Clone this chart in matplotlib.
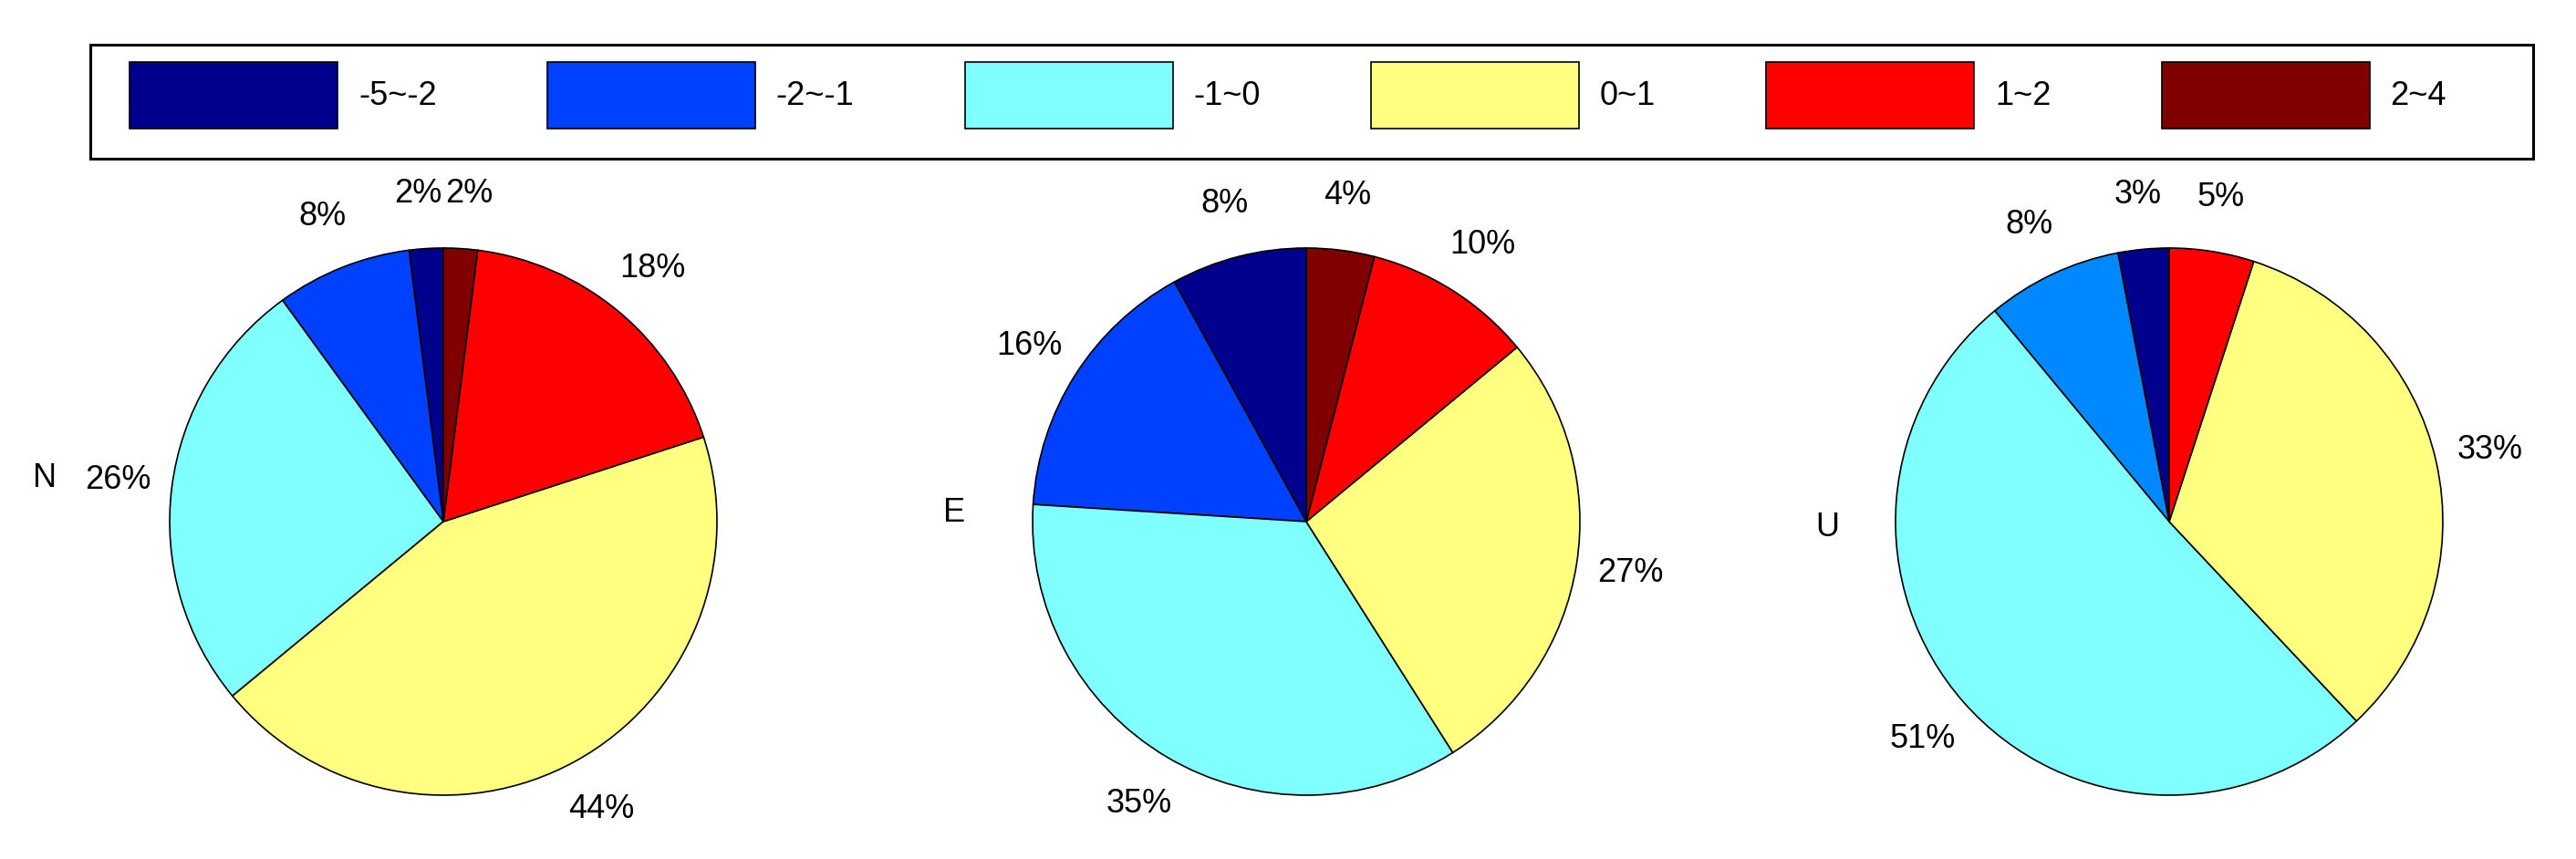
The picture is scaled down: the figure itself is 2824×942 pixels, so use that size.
import matplotlib
matplotlib.use('Agg')
import matplotlib.pyplot as plt
from matplotlib.patches import Rectangle

plt.rcParams['font.family'] = ['Liberation Sans', 'DejaVu Sans']

# ---------------- data ----------------
categories = ['-5~-2', '-2~-1', '-1~0', '0~1', '1~2', '2~4']
n_values = [2, 8, 26, 44, 18, 2]
e_values = [8, 16, 35, 27, 10, 4]
u_categories = ['-5~-2', '-2~-1', '-1~0', '0~1', '1~2']
u_values = [3, 8, 51, 33, 5]
component_names = ['N', 'E', 'U']

# ---------------- style ----------------
color_map = {'-5~-2': '#00008C', '-2~-1': '#0040FF', '-1~0': '#80FFFF',
             '0~1': '#FFFF80', '1~2': '#FF0000', '2~4': '#800000'}
u_color_map = dict(color_map)
u_color_map['-2~-1'] = '#0088FF'

W, H = 2824, 942
FS = 26
R = 300            # pie radius in pixels
S = 740            # axes size in pixels
centers = [(486, 572), (1432, 572), (2378, 572)]
name_pos = [(49, 525), (1046, 563), (2003, 579)]

fig = plt.figure(figsize=(W / 100, H / 100), dpi=100)
fig.patch.set_facecolor('white')

series = [(categories, n_values, color_map),
          (categories, e_values, color_map),
          (u_categories, u_values, u_color_map)]

legend_handles = None
all_texts = []
for (cats, vals, cmap), (cx, cy), (nx, ny), name in zip(series, centers, name_pos, component_names):
    ax = fig.add_axes([(cx - S / 2) / W, 1 - (cy + S / 2) / H, S / W, S / H])
    wedges, texts = ax.pie(vals, colors=[cmap[c] for c in cats],
                           labels=[f'{v}%' for v in vals],
                           startangle=90, counterclock=True, labeldistance=1.2,
                           wedgeprops=dict(edgecolor='black', linewidth=1.2),
                           textprops=dict(fontsize=FS, color='black'))
    for t in texts:
        t.set_horizontalalignment('center')
        t.set_verticalalignment('center')
    lim = S / 2 / R
    ax.set_xlim(-lim, lim)
    ax.set_ylim(-lim, lim)
    ax.axis('off')
    ax.text((nx - cx) / R, (cy - ny) / R, name, ha='center', va='center',
            fontsize=FS, color='black', clip_on=False)
    all_texts.append(texts)
    if legend_handles is None:
        legend_handles = wedges

# legend (MATLAB-like large colour patches)
fpx = FS * 100 / 72
patch_h = 73.0
hh = (patch_h / fpx - 0.245) / 0.65          # matplotlib's handle-height heuristic
fig.legend(legend_handles, categories, ncol=6, loc='upper left',
           bbox_to_anchor=(142 / W, 1 - 68 / H), bbox_transform=fig.transFigure,
           frameon=False, borderpad=0, borderaxespad=0,
           handlelength=228 / fpx, handleheight=hh,
           handletextpad=23 / fpx, columnspacing=121 / fpx, fontsize=FS)

fig.add_artist(Rectangle((99 / W, 1 - 174 / H), (2777 - 99) / W, 125 / H,
                         transform=fig.transFigure, fill=False,
                         edgecolor='black', linewidth=2.2))

# nudge touching percentage labels apart so they do not overlap
fig.canvas.draw()
renderer = fig.canvas.get_renderer()
for texts in all_texts:
    n = len(texts)
    for i in range(n):
        a, b = texts[i], texts[(i + 1) % n]
        ea, eb = a.get_window_extent(renderer), b.get_window_extent(renderer)
        ox = min(ea.x1, eb.x1) - max(ea.x0, eb.x0)
        oy = min(ea.y1, eb.y1) - max(ea.y0, eb.y0)
        if ox > 0 and oy > 0:
            left, right = (a, b) if ea.x0 < eb.x0 else (b, a)
            d = (ox / 2 + 2) / R
            lx, ly = left.get_position()
            rx, ry = right.get_position()
            left.set_position((lx - d, ly))
            right.set_position((rx + d, ry))

fig.savefig('out.png', dpi=100, facecolor='white')
